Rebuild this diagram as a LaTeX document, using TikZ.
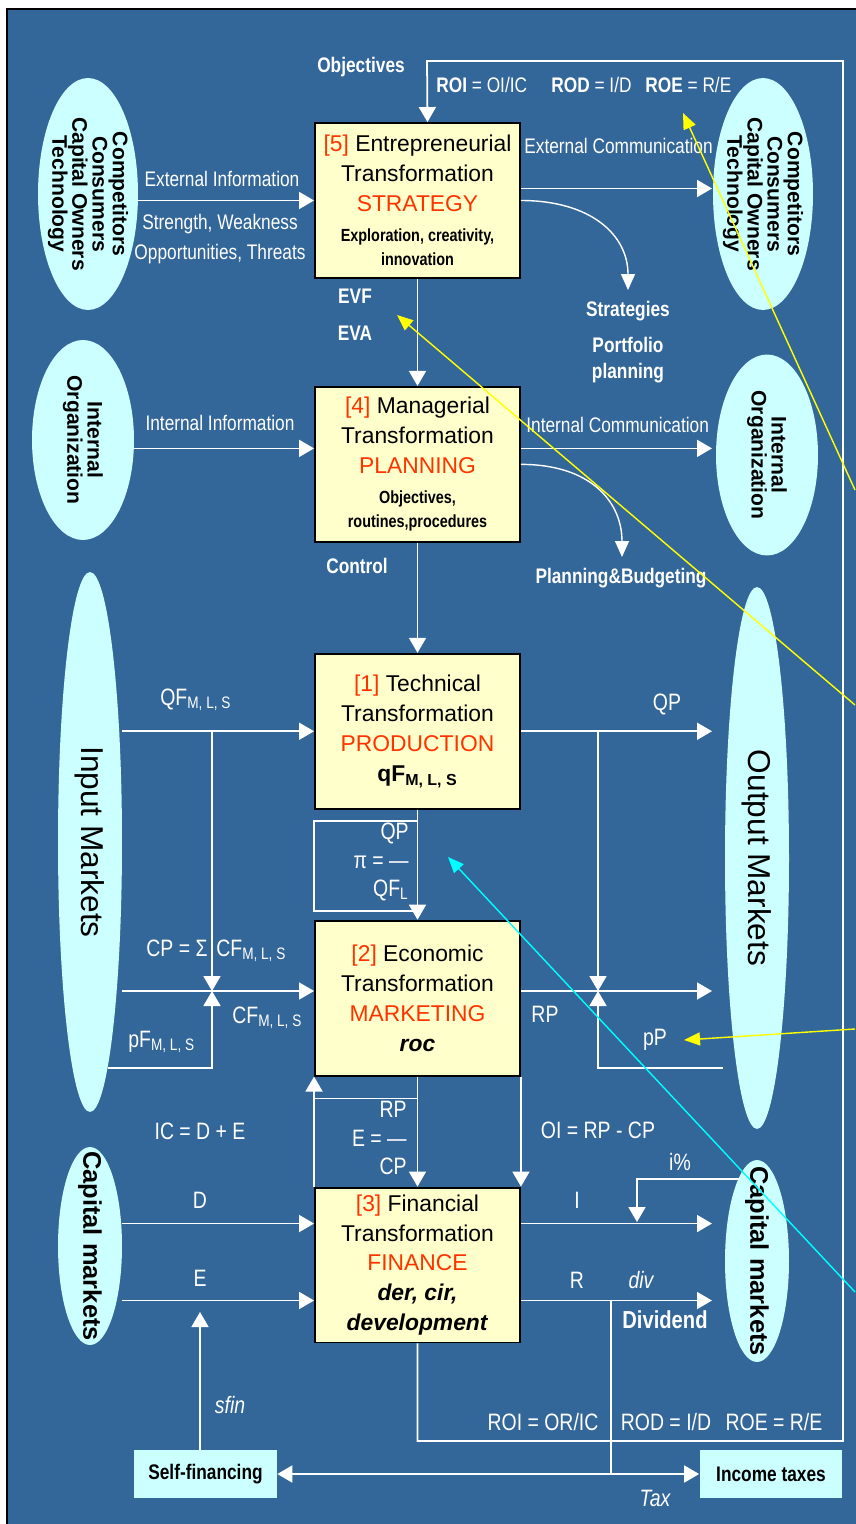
\documentclass[tikz,border=0pt]{standalone}
\usepackage{fontspec}
\setmainfont{Liberation Sans}
\newfontfamily\narrowfont{Liberation Sans}[FakeStretch=0.82]
\usetikzlibrary{shapes.geometric,arrows.meta,positioning,calc}

\definecolor{bgblue}{RGB}{51,102,153}
\definecolor{boxyellow}{RGB}{255,255,204}
\definecolor{mktcyan}{RGB}{204,255,255}
\definecolor{titlered}{RGB}{255,51,0}
\definecolor{ptryellow}{RGB}{255,255,0}
\definecolor{ptrcyan}{RGB}{0,255,255}

\newcommand{\nr}[1]{\textcolor{titlered}{#1}}
\newcommand{\smb}{\narrowfont\bfseries\fontsize{10}{12}\selectfont}

\begin{document}
\begin{tikzpicture}[x=0.02cm, y=-0.02cm,
    trans/.style={rectangle, draw=black, line width=1.1pt, fill=boxyellow, minimum width=4.1cm, minimum height=3.1cm, inner sep=0pt, align=center, font=\fontsize{13}{17}\selectfont},
    market/.style={ellipse, fill=mktcyan, inner sep=0pt},
    mktext/.style={rotate=-90, align=center, inner sep=0pt, font=\bfseries\fontsize{12}{11.5}\selectfont},
    side/.style={rectangle, fill=mktcyan, minimum width=2.86cm, minimum height=0.96cm, inner sep=0pt, font=\narrowfont\bfseries\fontsize{12}{14}\selectfont},
    flow/.style={draw=white, line width=1pt, -{Triangle[length=0.3cm, width=0.34cm]}},
    both/.style={draw=white, line width=1pt, {Triangle[length=0.3cm, width=0.34cm]}-{Triangle[length=0.3cm, width=0.34cm]}},
    link/.style={draw=white, line width=1pt},
    curvy/.style={draw=white, line width=0.8pt, -{Triangle[length=0.32cm, width=0.28cm]}},
    pointer/.style={line width=0.8pt, -{Triangle[length=0.32cm, width=0.26cm]}},
    lbl/.style={text=white, inner sep=0pt, font=\narrowfont\fontsize{12}{14}\selectfont},
    blbl/.style={text=white, inner sep=0pt, font=\narrowfont\bfseries\fontsize{12}{15}\selectfont},
    fml/.style={text=white, inner sep=0pt, font=\narrowfont\fontsize{13.5}{16}\selectfont},
    ifml/.style={text=white, inner sep=0pt, font=\narrowfont\itshape\fontsize{13.5}{16}\selectfont}]

    % background
    \useasboundingbox (0,0) rectangle (855,1524);
    \fill[white] (0,0) rectangle (855,1524);
    \filldraw[fill=bgblue, draw=black, line width=1.2pt] (7,9) rectangle (870,1540);

    % transformation levels
    \node[trans] (b5) at (417.5,200.5) {\nr{[5]} Entrepreneurial\\Transformation\\\nr{STRATEGY}\\{\smb Exploration, creativity,}\\[-3pt]{\smb innovation}};
    \node[trans, below=2.14cm of b5] (b4) {\nr{[4]} Managerial\\Transformation\\\nr{PLANNING}\\{\smb Objectives,}\\[-3pt]{\smb routines,procedures}};
    \node[trans, below=2.2cm of b4] (b1) {\nr{[1]} Technical\\Transformation\\\nr{PRODUCTION}\\\textbf{qF\textsubscript{M, L, S}}};
    \node[trans, below=2.2cm of b1] (b2) {\nr{[2]} Economic\\Transformation\\\nr{MARKETING}\\\textbf{\textit{roc}}};
    \node[trans, below=2.2cm of b2] (b3) {\nr{[3]} Financial\\Transformation\\\nr{FINANCE}\\\textbf{\textit{der, cir,}}\\\textbf{\textit{development}}};

    % environment
    \node[market, minimum width=2cm, minimum height=4.64cm] (extL) at (88,194) {};
    \node[mktext] (extLt) at (extL) {Competitors\\Consumers\\Capital Owners\\Technology};
    \node[market, minimum width=2cm, minimum height=4.64cm] (extR) at (763,194) {};
    \node[mktext] (extRt) at (extR) {Competitors\\Consumers\\Capital Owners\\Technology};
    \node[market, minimum width=2.04cm, minimum height=4cm] (orgL) at (83,440) {};
    \node[mktext] (orgLt) at (orgL) {Internal\\Organization};
    \node[market, minimum width=2.04cm, minimum height=4.02cm] (orgR) at (767,455) {};
    \node[mktext] (orgRt) at (orgR) {Internal\\Organization};
    \node[market, minimum width=1.28cm, minimum height=10.8cm] (inM) at (90,842) {};
    \node[mktext, font=\fontsize{18}{20}\selectfont] (inMt) at (inM) {Input Markets};
    \node[market, minimum width=1.28cm, minimum height=10.84cm] (outM) at (757,858) {};
    \node[mktext, font=\fontsize{18}{20}\selectfont] (outMt) at (outM) {Output Markets};
    \node[market, minimum width=1.28cm, minimum height=3.96cm] (capL) at (90,1246) {};
    \node[mktext, font=\bfseries\fontsize{14.5}{16}\selectfont] (capLt) at (capL) {Capital markets};
    \node[market, minimum width=1.28cm, minimum height=4.04cm] (capR) at (757,1261) {};
    \node[mktext, font=\bfseries\fontsize{14.5}{16}\selectfont] (capRt) at (capR) {Capital markets};
    \node[side] (self) at (205.5,1474) {Self-financing};
    \node[side] (tax) at (771,1474) {Income taxes};

    % helper points
    \coordinate (outL) at (712,0);
    \coordinate (fbR) at (843,1441);
    \coordinate (fbT) at (427,61);
    \coordinate (strat) at (628,290);
    \coordinate (pbud) at (622,557);
    \coordinate (cpJ) at (212,991);
    \coordinate (rpJ) at (598,991);
    \coordinate (pFin) at (108,1068);
    \coordinate (pPin) at (723,1068);
    \coordinate (iIn) at (740,1179);
    \coordinate (iJ) at (637,1222);
    \coordinate (sfinTip) at (200,1312);
    \coordinate (taxX) at (611,0);

    % strategy
    \draw[flow] (extL.east |- b5.west) -- (b5.west);
    \draw[flow] ([yshift=0.24cm]b5.east) coordinate (s5e) -- (s5e -| outL);
    \draw[curvy] (b5.east) .. controls +(70,0) and +(0,-55) .. (strat);
    \draw[flow] (b5) -- (b4);
    \draw[flow] (b3.south) |- (fbR) |- (fbT) -- ([xshift=0.2cm]b5.north);

    % planning
    \coordinate (s4w) at ([yshift=0.32cm]b4.west);
    \draw[flow] (orgL.east |- s4w) -- (s4w);
    \draw[flow] ([yshift=0.32cm]b4.east) coordinate (s4e) -- (s4e -| outL);
    \draw[curvy] (b4.east) .. controls +(70,0) and +(0,-55) .. (pbud);
    \draw[flow] (b4) -- (b1);

    % production
    \draw[flow] (inM.east |- b1.west) -- (b1.west);
    \draw[flow] (cpJ |- b1.west) -- (cpJ);
    \draw[flow] (b1.east) -- (b1.east -| outL);
    \draw[flow] (rpJ |- b1.east) -- (rpJ);
    \draw[flow] (b1) -- (b2);
    \draw[link] ([yshift=-0.22cm]b1.south west) rectangle ([yshift=0.18cm]b2.north);

    % marketing
    \draw[flow] (inM.east |- cpJ) -- (cpJ -| b2.west);
    \draw[flow] (pFin) -| (cpJ);
    \draw[flow] (b2.east |- rpJ) -- (rpJ -| outL);
    \draw[flow] (pPin) -| (rpJ);
    \draw[flow] (b2) -- (b3);
    \draw[flow] (b3.north west) -- (b2.south west);
    \draw[link] ([yshift=-0.44cm]b2.south west) -- ([yshift=-0.44cm]b2.south);
    \draw[flow] (b2.south east) -- (b3.north east);

    % finance
    \coordinate (dIn) at ([yshift=0.83cm]b3.west);
    \coordinate (eIn) at ([yshift=-0.71cm]b3.west);
    \draw[flow] (capL.east |- dIn) -- (dIn);
    \draw[flow] (capL.east |- eIn) -- (eIn);
    \draw[flow] ([yshift=0.83cm]b3.east) coordinate (dOut) -- (dOut -| outL);
    \draw[flow] (iIn) -| (iJ);
    \draw[flow] ([yshift=-0.71cm]b3.east) coordinate (eOut) -- (eOut -| outL);
    \draw[link] (eOut -| taxX) -- (self.east -| taxX);
    \draw[both] (self.east) -- (tax.west);
    \draw[flow] (sfinTip |- self.north) -- (sfinTip);

    % labels
    \node[blbl] (objL) at (361,67) {Objectives};
    \node[lbl, anchor=base west] (roiT) at (436,93) {\textbf{ROI} = OI/IC};
    \node[lbl, anchor=base west] (rodT) at (551,93) {\textbf{ROD} = I/D};
    \node[lbl, anchor=base west] (roeT) at (645,93) {\textbf{ROE} = R/E};
    \node[lbl] (extInf) at (222,179) {External Information};
    \node[lbl] (swL) at (220,224) {Strength, Weakness};
    \node[lbl] (otL) at (220,254) {Opportunities, Threats};
    \node[lbl, anchor=west] (extCom) at (524,146) {External Communication};
    \node[blbl] (stratL) at (628,311) {Strategies};
    \node[blbl, align=center] (portL) at (628,360) {Portfolio\\planning};
    \node[blbl] (evfL) at (355,296) {EVF};
    \node[blbl] (evaL) at (355,333) {EVA};
    \node[lbl] (intInf) at (220,423) {Internal Information};
    \node[lbl, anchor=west] (intCom) at (526,425) {Internal Communication};
    \node[blbl] (pbL) at (621,578) {Planning\&Budgeting};
    \node[blbl] (ctrlL) at (357,566) {Control};
    \node[fml, anchor=base west] (qfL) at (160,705) {QF\textsubscript{M, L, S}};
    \node[fml] (qpL) at (667,704) {QP};
    \node[fml, align=right, anchor=east] (piL) at (409,862) {QP\\π = —\\QF\textsubscript{L}};
    \node[fml, anchor=base east] (cpL) at (208,956) {CP = Σ};
    \node[fml, anchor=base west] (cfTop) at (216,956) {CF\textsubscript{M, L, S}};
    \node[fml, anchor=base west] (cfBot) at (232,1023) {CF\textsubscript{M, L, S}};
    \node[fml, anchor=base west] (pfL) at (128,1047) {pF\textsubscript{M, L, S}};
    \node[fml] (rpL) at (545,1014) {RP};
    \node[fml] (ppL) at (655,1040) {pP};
    \node[fml, align=right, anchor=east] (eL) at (407,1138) {RP\\E = —\\CP};
    \node[fml] (icL) at (200,1131) {IC = D + E};
    \node[fml] (oiL) at (598,1130) {OI = RP - CP};
    \node[fml] (ipL) at (680,1162) {i\%};
    \node[fml] (dL) at (200,1200) {D};
    \node[fml] (iL) at (577,1200) {I};
    \node[fml] (eqL) at (200,1278) {E};
    \node[fml] (rL) at (577,1280) {R};
    \node[ifml] (divL) at (641,1280) {div};
    \node[blbl, font=\narrowfont\bfseries\fontsize{14}{16}\selectfont] (dvdL) at (665,1320) {Dividend};
    \node[ifml] (sfinL) at (230,1405) {sfin};
    \node[fml] (roiB) at (543,1422) {ROI = OR/IC};
    \node[fml] (rodB) at (666,1422) {ROD = I/D};
    \node[fml] (roeB) at (774,1422) {ROE = R/E};
    \node[ifml] (taxL) at (655,1498) {Tax};

    % pointers
    \coordinate (yA) at (855,490);
    \coordinate (yAt) at (683,113);
    \coordinate (yB) at (855,705);
    \coordinate (yBt) at (397,315);
    \coordinate (yC) at (855,1029);
    \coordinate (yCt) at (684,1040);
    \coordinate (cA) at (855,1292);
    \coordinate (cAt) at (448,857);
    \draw[pointer, draw=ptryellow] (yA) -- (yAt);
    \draw[pointer, draw=ptryellow] (yB) -- (yBt);
    \draw[pointer, draw=ptryellow] (yC) -- (yCt);
    \draw[pointer, draw=ptrcyan] (cA) -- (cAt);
\end{tikzpicture}
\end{document}
